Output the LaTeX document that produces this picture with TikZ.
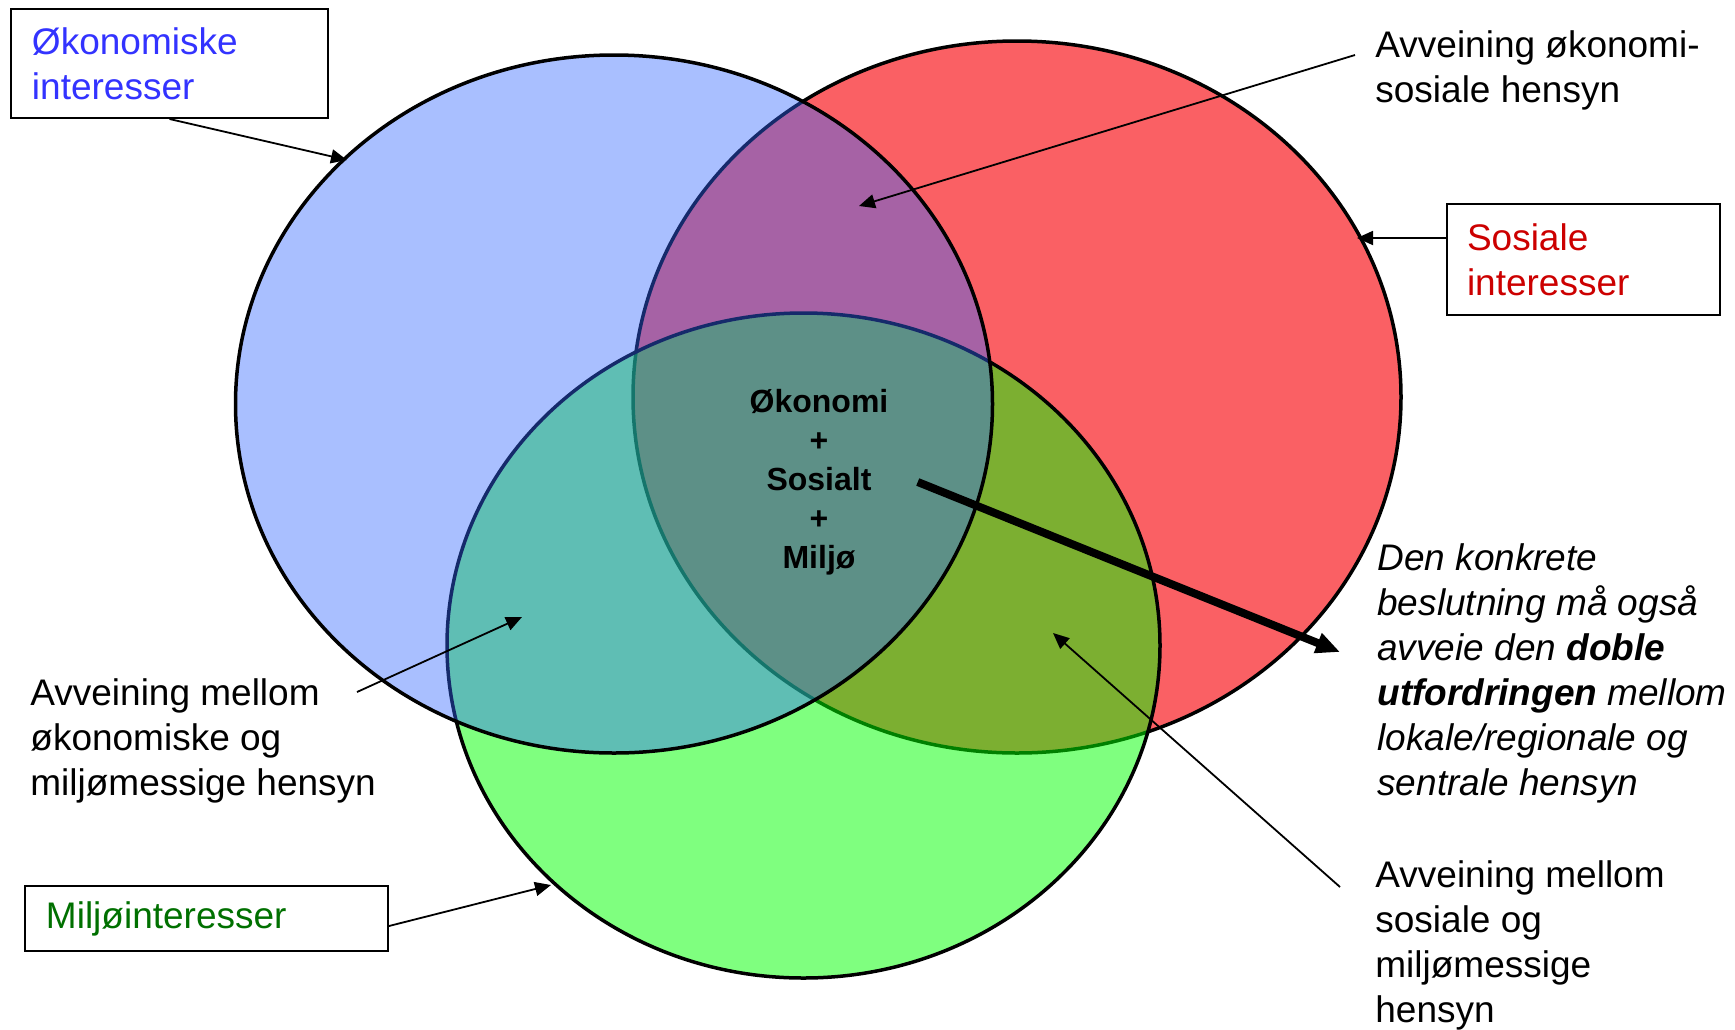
\documentclass[tikz,border=0pt]{standalone}
\usepackage{fontspec}
\setmainfont{Liberation Sans}
\usetikzlibrary{arrows.meta,positioning}

\definecolor{socFill}{RGB}{250,96,100}
\definecolor{envFill}{RGB}{0,255,0}
\definecolor{ecoFill}{RGB}{51,102,255}
\definecolor{ecoText}{RGB}{51,51,255}
\definecolor{socText}{RGB}{204,0,0}
\definecolor{envText}{RGB}{0,112,0}

\begin{document}
\begin{tikzpicture}[
  x=0.5pt, y=-0.5pt,
  font=\fontsize{18.5}{22.5}\selectfont,
  sphere/.style={draw=black, line width=1.75pt},
  tagbox/.style={draw, line width=1pt, anchor=north west, align=left,
                 inner xsep=10.5pt, inner ysep=0pt},
  note/.style={anchor=base west, align=left, inner sep=0pt},
  pointer/.style={-{Triangle[length=8pt,width=7pt]}, line width=0.9pt},
  bigpointer/.style={-{Triangle[length=12pt,width=10pt]}, line width=4pt}
]
\useasboundingbox (0,0) rectangle (1735,1029);

% the three interests
\filldraw[sphere, fill=socFill] (1017,397) ellipse [x radius=192pt, y radius=178pt];
\filldraw[sphere, fill=envFill, fill opacity=0.5] (803.5,645.5) ellipse [x radius=178.25pt, y radius=166.25pt];
\filldraw[sphere, fill=ecoFill, fill opacity=0.42] (614,404) ellipse [x radius=189.25pt, y radius=174.5pt];

\node[align=center, inner sep=0pt, font=\fontsize{16}{19.5}\selectfont\bfseries] (core) at (819,482)
  {Økonomi\\+\\Sosialt\\+\\Miljø};

% boxes
\node[tagbox, text width=137.5pt, minimum height=54.5pt, text=ecoText] (ecoBox) at (10,8)
  {Økonomiske\\interesser};
\node[tagbox, inner xsep=10pt, text width=116.5pt, minimum height=55.5pt, text=socText] (socBox) at (1446,203)
  {Sosiale\\interesser};
\node[tagbox, text width=160.5pt, minimum height=32.5pt, text=envText] (envBox) at (24,885)
  {Miljøinteresser};

% notes (placed at the baseline of their last line)
\node[note] (esNote) at (1375,102.5) {Avveining økonomi-\\sosiale hensyn};
\node[note] (emNote) at (30,795) {Avveining mellom\\økonomiske og\\miljømessige hensyn};
\node[note] (smNote) at (1375,1022) {Avveining mellom\\sosiale og\\miljømessige\\hensyn};
\node[note, font=\fontsize{18.5}{22.5}\selectfont\itshape] (twoNote) at (1377,795)
  {Den konkrete\\beslutning må også\\avveie den \textbf{doble}\\\textbf{utfordringen} mellom\\lokale/regionale og\\sentrale hensyn};

\coordinate (ecoTip) at (347,160);
\coordinate (socTip) at (1357,238);
\coordinate (envTip) at (551,885);
\coordinate (esTip) at (859,206);
\coordinate (emTip) at (522,617);
\coordinate (smTip) at (1053,633);

\draw[pointer] (ecoBox.south) -- (ecoTip);
\draw[pointer] (socBox.west |- socTip) -- (socTip);
\draw[pointer] ([yshift=-3.75pt]envBox.east) -- (envTip);
\draw[pointer] ([xshift=-10pt,yshift=23.75pt]esNote.base west) -- (esTip);
\draw[pointer] ([xshift=163.5pt,yshift=51.5pt]emNote.base west) -- (emTip);
\draw[pointer] ([xshift=-17.5pt,yshift=67.5pt]smNote.base west) -- (smTip);
\draw[bigpointer] ([xshift=14.5pt]core.east) -- ([xshift=-18.5pt,yshift=71.5pt]twoNote.base west);
\end{tikzpicture}
\end{document}
